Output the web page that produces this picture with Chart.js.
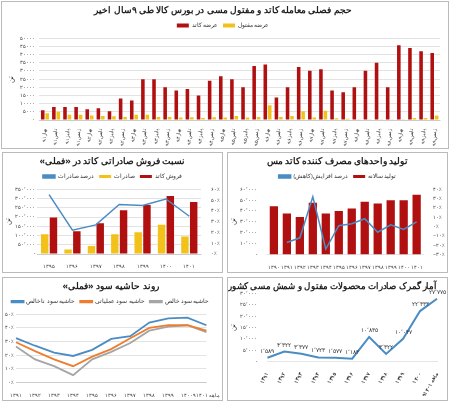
<!DOCTYPE html>
<html><head><meta charset="utf-8">
<script src="https://cdn.jsdelivr.net/npm/chart.js@4.4.0/dist/chart.umd.min.js"></script>
<style>
body{margin:0;background:#fff;width:450px;height:402px;position:relative;overflow:hidden;font-family:"Noto Sans",sans-serif}
.p{position:absolute;border:1px solid #bbb;background:#fff;box-sizing:border-box}
canvas{display:block}
</style></head><body>
<div class="p" style="left:1px;top:1px;width:448px;height:148px"><canvas id="c1" width="446" height="146"></canvas></div>
<div class="p" style="left:2px;top:152px;width:221px;height:121px"><canvas id="c2" width="219" height="119"></canvas></div>
<div class="p" style="left:227px;top:152px;width:221px;height:121px"><canvas id="c3" width="219" height="119"></canvas></div>
<div class="p" style="left:2px;top:277px;width:221px;height:124px"><canvas id="c4" width="219" height="122"></canvas></div>
<div class="p" style="left:227px;top:277px;width:221px;height:124px"><canvas id="c5" width="219" height="122"></canvas></div>
<script>
// ---- data ----
const quarterLabels=["بهار۹۱","تابس۹۱","پاییز۹۱","زمس۹۱","بهار۹۲","تابس۹۲","پاییز۹۲","زمس۹۲","بهار۹۳","تابس۹۳","پاییز۹۳","زمس۹۳","بهار۹۴","تابس۹۴","پاییز۹۴","زمس۹۴","بهار۹۵","تابس۹۵","پاییز۹۵","زمس۹۵","بهار۹۶","تابس۹۶","پاییز۹۶","زمس۹۶","بهار۹۷","تابس۹۷","پاییز۹۷","زمس۹۷","بهار۹۸","تابس۹۸","پاییز۹۸","زمس۹۸","بهار۹۹","تابس۹۹","پاییز۹۹","زمس۹۹"];
const cathodeQ=[6000,8000,8000,8000,6600,7200,5300,13200,12000,25000,25000,20000,18000,18900,15000,24000,26800,25000,20000,33000,34000,13800,20000,32500,30200,31000,18000,17000,20000,30200,35000,20000,45800,44000,42000,41000];
const wireQ=[4200,5000,3200,3200,2800,2500,2300,1900,3200,3200,1900,1900,1500,1700,1300,1700,1500,2500,1500,1900,9000,1900,2500,5300,1500,5700,1100,700,500,500,400,400,400,1300,1300,2800];

const salesYears=["۱۳۹۵","۱۳۹۶","۱۳۹۷","۱۳۹۸","۱۳۹۹","۱۴۰۰","۱۴۰۱"];
const cathodeSales=[197000,123000,167000,237000,265000,314000,281000];
const exportsSales=[107000,24000,43000,107000,118000,158000,95000];
const exportPct=[55,22,27,46,45,51,35];

const prodYears=["۱۳۹۰","۱۳۹۱","۱۳۹۲","۱۳۹۳","۱۳۹۴","۱۳۹۵","۱۳۹۶","۱۳۹۷","۱۳۹۸","۱۳۹۹","۱۴۰۰","۱۴۰۱"];
const prodAnnual=[44500,37700,34500,47700,37700,40000,42400,48500,47000,50000,50000,55000];
const prodChange=[null,-17,-12,32,-24,1,3,8.5,-6,2,-3,5];

const marginYears=["۱۳۹۱","۱۳۹۲","۱۳۹۳","۱۳۹۴","۱۳۹۵","۱۳۹۶","۱۳۹۷","۱۳۹۸","۱۳۹۹","۱۴۰۰","۹ماهه ۱۴۰۱"];
const grossMargin=[32.5,27,22,19.5,24,32,34,44,47,47.5,42];
const opMargin=[29.5,23,17,12,19,24.5,32.5,40,42,42,38];
const netMargin=[26.5,17,12,5.5,17,22.5,29,38,41,42,37];

const customsYears=["۱۳۹۱","۱۳۹۲","۱۳۹۳","۱۳۹۴","۱۳۹۵","۱۳۹۶","۱۳۹۷","۱۳۹۸","۱۳۹۹","۱۴۰۰","۹ماهه ۱۴۰۱"];
const customsExports=[1589,4322,3377,1723,1577,1183,10835,3322,10047,22333,27775];

// ---- helpers ----
Chart.defaults.font.family='"Noto Sans",sans-serif';
Chart.defaults.font.size=6;
Chart.defaults.color='#333';
Chart.defaults.animation=false;
Chart.defaults.responsive=false;
const fa=v=>Number(v).toLocaleString('fa-IR',{useGrouping:false});
const faG=v=>Number(v).toLocaleString('fa-IR');
const pct=v=>fa(v)+'٪';
const RED='#b01010',YEL='#f2c21b',BLUE='#4a8cc4',ORG='#ed7d31',GRY='#a5a5a5';
const grid={color:'#e3e3e3',drawTicks:false};
const title=t=>({display:true,text:'\u200F'+t+'\u200F',font:{size:9,weight:'bold'},color:'#222',padding:{top:3,bottom:2}});
const legend={display:true,position:'top',labels:{boxWidth:12,boxHeight:4,font:{size:5.5},padding:5}};
const yTitle={display:true,text:'تن',font:{size:7},padding:1};
const tk5={font:{size:5},autoSkip:false,padding:2,maxRotation:0};

new Chart(document.getElementById('c1'),{type:'bar',
 data:{labels:quarterLabels,datasets:[
  {label:'عرضه کاتد',data:cathodeQ,backgroundColor:RED,barPercentage:0.8,categoryPercentage:0.8},
  {label:'عرضه مفتول',data:wireQ,backgroundColor:YEL,barPercentage:0.8,categoryPercentage:0.8}]},
 options:{layout:{padding:{left:4,right:8,bottom:1}},plugins:{title:title('حجم فصلی معامله کاتد و مفتول مسی در بورس کالا طی ۹سال اخیر'),legend},
  scales:{x:{grid:{display:false},ticks:{maxRotation:90,minRotation:90,font:{size:4.5},autoSkip:false,padding:1}},
   y:{min:0,max:50000,ticks:{stepSize:5000,callback:fa,padding:4,autoSkip:false,font:{size:5}},grid,border:{display:false},title:yTitle}}}});

new Chart(document.getElementById('c2'),{type:'bar',
 data:{labels:salesYears,datasets:[
  {type:'line',label:'درصد صادرات',data:exportPct,borderColor:BLUE,backgroundColor:BLUE,borderWidth:1.5,pointRadius:0,yAxisID:'y2',order:0},
  {label:'صادرات',data:exportsSales,backgroundColor:YEL,yAxisID:'y',order:1},
  {label:'فروش کاتد',data:cathodeSales,backgroundColor:RED,yAxisID:'y',order:1}]},
 options:{plugins:{title:title('نسبت فروش صادراتی کاتد در «فملی»'),legend:{...legend,labels:{...legend.labels,boxHeight:3}}},
  datasets:{bar:{barPercentage:0.85,categoryPercentage:0.75}},
  scales:{x:{grid:{display:false},ticks:tk5},
   y:{min:0,max:350000,ticks:{...tk5,stepSize:50000,callback:v=>v?faG(v):'-'},grid,border:{display:false},title:yTitle},
   y2:{position:'right',min:0,max:60,ticks:{...tk5,stepSize:10,callback:pct},grid:{display:false},border:{display:false}}}}});

new Chart(document.getElementById('c3'),{type:'bar',
 data:{labels:prodYears,datasets:[
  {type:'line',label:'درصد افزایش(کاهش)',data:prodChange,borderColor:BLUE,backgroundColor:BLUE,borderWidth:1.5,pointRadius:0,yAxisID:'y2',order:0},
  {label:'تولید سالانه',data:prodAnnual,backgroundColor:RED,yAxisID:'y',order:1,barPercentage:0.75,categoryPercentage:0.85}]},
 options:{plugins:{title:title('تولید واحدهای مصرف کننده کاتد مس'),legend:{...legend,labels:{...legend.labels,boxHeight:3}}},
  scales:{x:{grid:{display:false},ticks:{...tk5,font:{size:4.5}}},
   y:{min:0,max:60000,ticks:{...tk5,stepSize:10000,callback:v=>v?faG(v):'-'},grid:{display:false},border:{display:false},title:yTitle},
   y2:{position:'right',min:-30,max:40,ticks:{...tk5,stepSize:10,callback:pct},grid:{display:false},border:{display:false}}}}});

new Chart(document.getElementById('c4'),{type:'line',
 data:{labels:marginYears,datasets:[
  {label:'حاشیه سود ناخالص',data:grossMargin,borderColor:BLUE,backgroundColor:BLUE},
  {label:'حاشیه سود عملیاتی',data:opMargin,borderColor:ORG,backgroundColor:ORG},
  {label:'حاشیه سود خالص',data:netMargin,borderColor:GRY,backgroundColor:GRY}]},
 options:{elements:{line:{borderWidth:1.8},point:{radius:0}},layout:{padding:{right:4}},
  plugins:{title:title('روند حاشیه سود «فملی»'),legend:{...legend,labels:{...legend.labels,boxHeight:1.5}}},
  scales:{x:{grid:{display:false},ticks:{...tk5,font:{size:4.5}}},
   y:{min:0,max:50,ticks:{...tk5,stepSize:10,callback:pct},grid,border:{display:false}}}}});

const labelPlug={id:'lbl',afterDatasetsDraw(c){const ctx=c.ctx;const m=c.getDatasetMeta(0);ctx.save();ctx.font='6px "Noto Sans"';ctx.fillStyle='#333';ctx.textAlign='center';
 m.data.forEach((p,i)=>{ctx.fillText(faG(customsExports[i]),p.x,p.y-5);});ctx.restore();}};
new Chart(document.getElementById('c5'),{type:'line',
 data:{labels:customsYears,datasets:[{label:'صادرات',data:customsExports,borderColor:BLUE,borderWidth:2,pointRadius:0}]},
 plugins:[labelPlug],
 options:{layout:{padding:{right:10}},plugins:{title:title('آمار گمرک صادرات محصولات مفتول و شمش مسی کشور'),legend:{display:false}},
  scales:{x:{grid:{display:false},ticks:{...tk5,font:{size:5,weight:'bold'},maxRotation:60,minRotation:60}},
   y:{min:0,max:30000,ticks:{...tk5,stepSize:5000,callback:v=>v?faG(v):'-'},grid:{display:false},border:{display:false},title:yTitle}}}});
</script></body></html>
